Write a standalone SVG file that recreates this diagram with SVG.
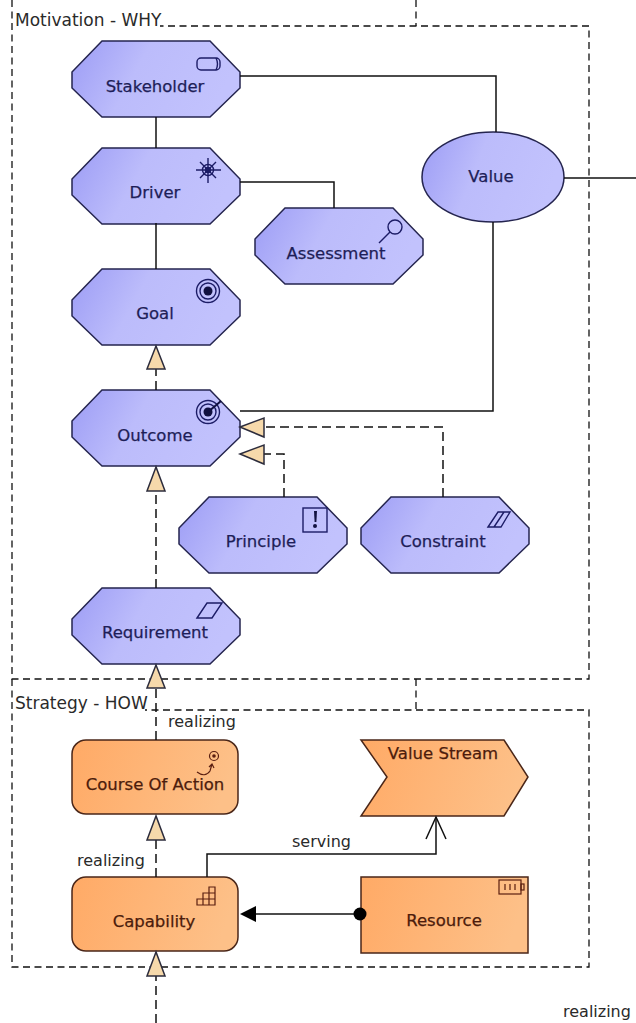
<svg xmlns="http://www.w3.org/2000/svg" width="636" height="1023" viewBox="0 0 636 1023">
<style>
text{font-family:"DejaVu Sans",sans-serif;font-size:16.5px;text-anchor:middle}
.m{fill:url(#blue);stroke:#25254f;stroke-width:1.5}
.s{fill:url(#orange);stroke:#4a2618;stroke-width:1.5}
.mt{fill:#1e1e58;stroke:#1e1e58;stroke-width:.25}
.st{fill:#4c1c0c;stroke:#4c1c0c;stroke-width:.25}
.lab{fill:#2a2a2a;text-anchor:start;font-size:16px}
.grp{fill:#2a2a2a;text-anchor:start;font-size:17px}
.box{fill:none;stroke:#111;stroke-width:1.3;stroke-dasharray:7 4.5}
.c{fill:none;stroke:#111;stroke-width:1.5}
.d{fill:none;stroke:#111;stroke-width:1.5;stroke-dasharray:9 5}
.tri{fill:#f6d9ab;stroke:#2c2c3c;stroke-width:1.5}
.ib{fill:none;stroke:#1c1c66;stroke-width:1.4}
.ibf{fill:#111140;stroke:none}
.io{fill:none;stroke:#5a1e10;stroke-width:1.2}
</style>
<defs>
<linearGradient id="blue" x1="0" y1="0" x2="1" y2="0.25"><stop offset="0" stop-color="#9c9cf5"/><stop offset="0.45" stop-color="#bcbcfb"/><stop offset="1" stop-color="#c2c2fd"/></linearGradient>
<linearGradient id="orange" x1="0" y1="0" x2="1" y2="0.15"><stop offset="0" stop-color="#ffaa66"/><stop offset="1" stop-color="#fdc088"/></linearGradient>
<polygon id="hex" points="30,0 138,0 168,31 168,47 138,76 30,76 0,47 0,31"/>
</defs>
<g id="groups">
<path class="box" d="M12 0V679H589V26H160"/>
<path class="box" d="M416 0V26"/>
<path class="box" d="M416 679V710"/>
<path class="box" d="M12 679V967H589V710H145"/>
<text class="grp" x="15" y="26">Motivation - WHY</text>
<text class="grp" x="15" y="709">Strategy - HOW</text>
</g>
<g id="stakeholder"><use href="#hex" x="72" y="41" class="m"/>
<rect class="ib" x="197" y="58" width="23" height="12" rx="4"/><path class="ib" d="M216 58q3 6 0 12"/>
<text class="mt" x="155" y="92">Stakeholder</text></g>
<g id="driver"><use href="#hex" x="72" y="148" class="m"/>
<g class="ib"><circle cx="208" cy="170" r="5.5"/><circle cx="208" cy="170" r="2.5" fill="#111140"/><path d="M208 158V183M196 170H221M200 162L216 178M216 162L200 178"/></g>
<text class="mt" x="155" y="198">Driver</text></g>
<g id="assessment"><use href="#hex" x="255" y="208" class="m"/>
<circle class="ib" cx="395" cy="227" r="7"/><path class="ib" d="M390 232L379 243"/>
<text class="mt" x="336" y="259">Assessment</text></g>
<g id="goal"><use href="#hex" x="72" y="269" class="m"/>
<circle class="ib" cx="208" cy="291" r="11.5"/><circle class="ib" cx="208" cy="291" r="8"/><circle class="ibf" cx="208" cy="291" r="4.5"/>
<text class="mt" x="155" y="319">Goal</text></g>
<g id="value"><ellipse class="m" cx="493" cy="177" rx="71" ry="45"/>
<text class="mt" x="491" y="182">Value</text></g>
<g id="outcome"><use href="#hex" x="72" y="390" class="m"/>
<circle class="ib" cx="208" cy="412" r="11.5"/><circle class="ib" cx="208" cy="412" r="8"/><circle class="ibf" cx="208" cy="412" r="4.5"/><path d="M208 412L221 401" stroke="#111140" stroke-width="2"/>
<text class="mt" x="155" y="441">Outcome</text></g>
<g id="principle"><use href="#hex" x="179" y="497" class="m"/>
<rect class="ib" x="303" y="508" width="24" height="24"/><path d="M314 511h3l-.6 11h-1.8z" class="ibf"/><circle class="ibf" cx="315" cy="526" r="2"/>
<text class="mt" x="261" y="547">Principle</text></g>
<g id="constraint"><use href="#hex" x="361" y="497" class="m"/>
<path class="ib" d="M488 527L498 512H510L501 527ZM494 527L504 512"/>
<text class="mt" x="443" y="547">Constraint</text></g>
<g id="requirement"><use href="#hex" x="72" y="588" class="m"/>
<path class="ib" d="M197 618L207 603H222L212 618Z"/>
<text class="mt" x="155" y="638">Requirement</text></g>
<g id="course-of-action"><rect class="s" x="72" y="740" width="166" height="74" rx="14"/>
<circle class="io" cx="214" cy="756" r="4.5"/><circle cx="214" cy="756" r="1.8" fill="#5a1e10"/><path class="io" d="M197 772q8 6 13-1l2-7M209 767l3-3 2 4"/>
<text class="st" x="155" y="790">Course Of Action</text></g>
<g id="capability"><rect class="s" x="72" y="877" width="166" height="74" rx="14"/>
<path class="io" d="M197 905V899H203V893H209V887H215V905ZM203 899V905M209 893V905M203 899H215M209 893H215"/>
<text class="st" x="154" y="927">Capability</text></g>
<g id="value-stream"><polygon class="s" points="361,740 504,740 528,777 504,816 361,816 387,777"/>
<text class="st" x="443" y="759">Value Stream</text></g>
<g id="resource"><rect class="s" x="361" y="877" width="167" height="76"/>
<rect class="io" x="499" y="880" width="22" height="14"/><rect class="io" x="521" y="884" width="3" height="6"/><path class="io" d="M505 884V890M510 884V890M515 884V890"/>
<text class="st" x="444" y="926">Resource</text></g>
<g id="connectors">
<path class="c" d="M240 76H496V132"/>
<path class="c" d="M156 117V148"/>
<path class="c" d="M156 223V269"/>
<path class="c" d="M240 182H334V208"/>
<path class="c" d="M564 178H636"/>
<path class="c" d="M493 222V411H240"/>
<path class="d" d="M156 390V369"/>
<path class="d" d="M156 588V491"/>
<path class="d" d="M156 740V688"/>
<path class="d" d="M156 877V840"/>
<path class="d" d="M156 1023V976"/>
<path class="d" d="M443 497V427H264"/>
<path class="d" d="M284 497V454H264"/>
<path class="c" d="M207 877V854H436V817"/>
<path class="c" d="M426 839L436 817L446 839"/>
<path class="c" d="M360 914H250"/>
<circle cx="360" cy="914" r="6.5" fill="#000"/>
<polygon points="240,914 256,906 256,922" fill="#000"/>
<polygon class="tri" points="156,346 147,369 165,369"/>
<polygon class="tri" points="156,467 147,491 165,491"/>
<polygon class="tri" points="156,665 147,688 165,688"/>
<polygon class="tri" points="156,816 147,840 165,840"/>
<polygon class="tri" points="156,952 147,976 165,976"/>
<polygon class="tri" points="240,427 264,418 264,437"/>
<polygon class="tri" points="240,454 264,445 264,464"/>
<text class="lab" x="168" y="727">realizing</text>
<text class="lab" x="77" y="866">realizing</text>
<text class="lab" x="292" y="847">serving</text>
<text class="lab" x="563" y="1017">realizing</text>
</g>
</svg>
